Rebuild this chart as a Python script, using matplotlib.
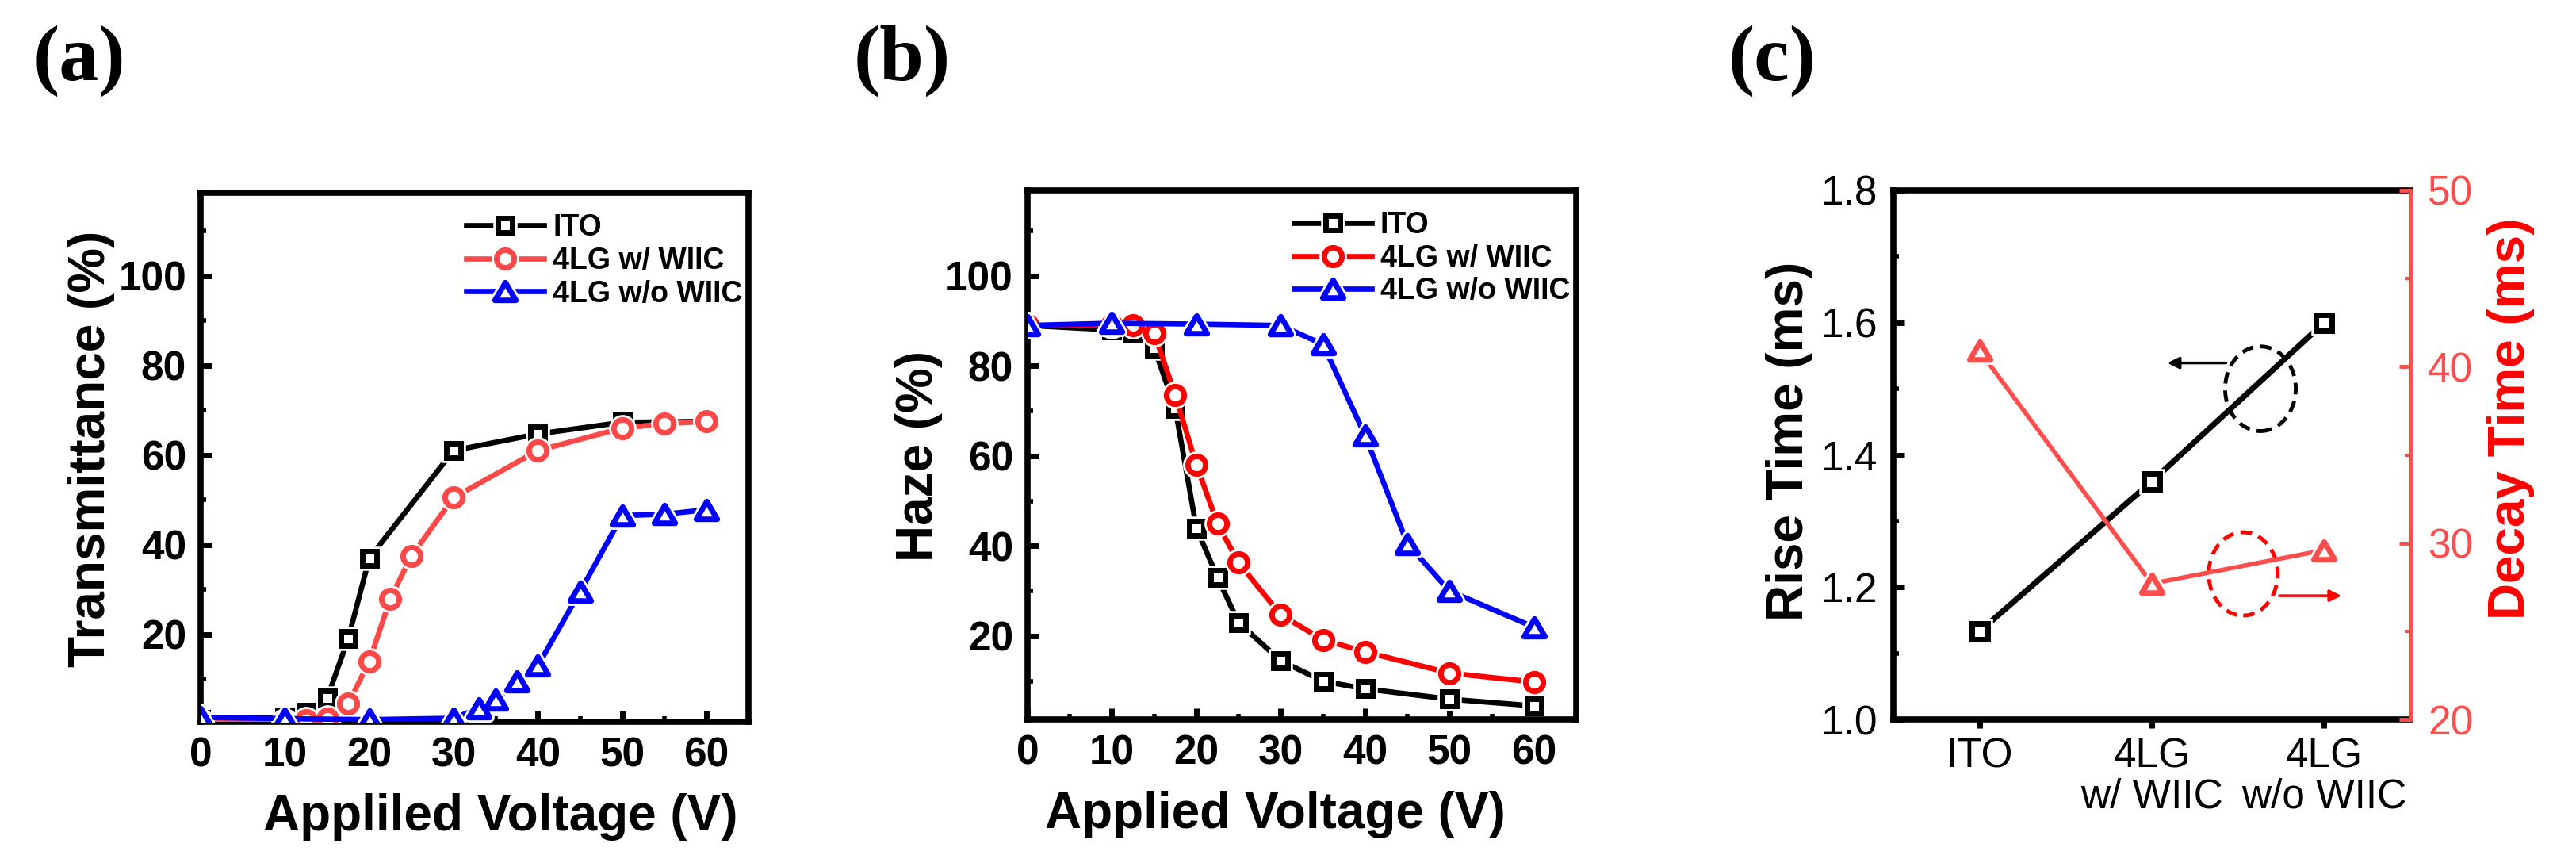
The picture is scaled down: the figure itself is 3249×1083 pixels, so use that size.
import matplotlib

matplotlib.use("Agg")
import matplotlib.pyplot as plt
from matplotlib.legend_handler import HandlerTuple
from matplotlib.markers import MarkerStyle
from matplotlib.patches import Ellipse
from matplotlib.path import Path
from matplotlib.ticker import MultipleLocator

# ---- data ----
# (a) transmittance vs applied voltage
volt_ito_a = [0, 10, 12.5, 15, 17.5, 20, 30, 40, 50, 60]
trans_ito = [1.0, 1.6, 2.6, 5.8, 19.0, 37.0, 61.0, 64.7, 67.3, 67.5]
volt_wiic_a = [0, 10, 12.5, 15, 17.5, 20, 22.5, 25, 30, 40, 50, 55, 60]
trans_wiic = [0.5, 0.5, 0.8, 1.2, 4.5, 14.0, 28.0, 37.5, 50.5, 61.0, 66.0, 67.0, 67.5]
volt_nowiic_a = [0, 10, 20, 30, 33, 35, 37.5, 40, 45, 50, 55, 60]
trans_nowiic = [1.5, 1.2, 1.0, 1.3, 3.5, 5.5, 9.5, 13.0, 29.5, 46.5, 46.8, 47.8]

# (b) haze vs applied voltage
volt_ito_b = [0, 10, 12.5, 15, 17.5, 20, 22.5, 25, 30, 35, 40, 50, 60]
haze_ito = [89.0, 88.0, 87.5, 84.0, 70.5, 44.0, 33.0, 23.0, 14.5, 10.0, 8.3, 6.0, 4.5]
volt_wiic_b = [0, 10, 12.5, 15, 17.5, 20, 22.5, 25, 30, 35, 40, 50, 60]
haze_wiic = [89.0, 89.0, 89.0, 87.3, 73.5, 58.0, 45.0, 36.3, 24.7, 19.2, 16.5, 11.8, 9.8]
volt_nowiic_b = [0, 10, 20, 30, 35, 40, 45, 50, 60]
haze_nowiic = [89.0, 89.5, 89.3, 89.0, 84.8, 64.5, 40.5, 30.0, 22.0]

# (c) response times
samples = ["ITO", "4LG\nw/ WIIC", "4LG\nw/o WIIC"]
rise_ms = [1.133, 1.36, 1.60]
decay_ms = [40.9, 27.7, 29.6]

legend_labels = ["ITO", "4LG w/ WIIC", "4LG w/o WIIC"]

SANS = "Liberation Sans"
SERIF = "Liberation Serif"
RED_A = "#ff4848"
RED_B = "#ff0000"
RED_C = "#ff4d4d"
BLUE = "#0000ff"
MEW = 5.0
LW = 4.8

# wide, squat open triangle like the Origin symbol
TRI = MarkerStyle(Path([(0, 0.85), (-1, -0.85), (1, -0.85), (0, 0.85)], closed=True),
                  joinstyle="miter")
SQR = MarkerStyle("s", joinstyle="miter")

plt.rcParams["font.family"] = SANS
plt.rcParams["font.weight"] = "bold"
plt.rcParams["axes.labelweight"] = "bold"
plt.rcParams["axes.linewidth"] = 5.5


def series(ax, x, y, color, marker, ms, lw, z):
    """Line + open symbol with a small white gap round each symbol."""
    line, = ax.plot(x, y, color=color, lw=lw, zorder=z)
    halo, = ax.plot(x, y, ls="none", marker=marker, ms=ms, mfc="white",
                    mec="white", mew=MEW + 4.0, zorder=z + 0.1)
    mk, = ax.plot(x, y, ls="none", marker=marker, ms=ms, mfc="white",
                  mec=color, mew=MEW, zorder=z + 0.2)
    return (line, halo, mk)


def style_voltage_axis(ax):
    ax.set_xlim(0, 65)
    ax.xaxis.set_major_locator(MultipleLocator(10))
    ax.xaxis.set_minor_locator(MultipleLocator(5))
    ax.yaxis.set_major_locator(MultipleLocator(20))
    ax.yaxis.set_minor_locator(MultipleLocator(10))
    ax.tick_params(which="major", direction="in", length=10, width=5,
                   pad=13, labelsize=37, top=False, right=False)
    ax.tick_params(which="minor", direction="in", length=5, width=4,
                   top=False, right=False)
    for t in ax.get_xticklabels() + ax.get_yticklabels():
        t.set_fontweight("bold")


def add_legend(ax, handles):
    ax.legend(handles, legend_labels, handler_map={tuple: HandlerTuple(ndivide=1, pad=0)},
              loc="upper right", bbox_to_anchor=(1.027, 1.0), frameon=False,
              handlelength=2.6, handletextpad=0.3, labelspacing=0.15,
              borderaxespad=0.45, borderpad=0.25,
              prop=dict(family=SANS, weight="bold", size=27))


fig = plt.figure(figsize=(32.49, 10.83), dpi=100)
ax_a = fig.add_axes([0.0779, 0.1597, 0.2127, 0.6159])
ax_b = fig.add_axes([0.3989, 0.1625, 0.2130, 0.6159])
ax_c = fig.add_axes([0.7350, 0.1625, 0.2007, 0.6159])

# ---- (a) ----
h1 = series(ax_a, volt_ito_a, trans_ito, "black", SQR, 13.5, LW, 2)
h2 = series(ax_a, volt_wiic_a, trans_wiic, RED_A, "o", 16, LW, 3)
h3 = series(ax_a, volt_nowiic_a, trans_nowiic, BLUE, TRI, 19, LW, 4)
style_voltage_axis(ax_a)
ax_a.set_ylim(0.5, 118.5)
ax_a.set_xlabel("Appliled Voltage (V)", fontsize=46, fontweight="bold")
ax_a.set_ylabel("Transmittance (%)", fontsize=46, fontweight="bold")
ax_a.xaxis.set_label_coords(0.547, -0.135)
ax_a.yaxis.set_label_coords(-0.156, 0.516)
add_legend(ax_a, [h1, h2, h3])

# ---- (b) ----
h1 = series(ax_b, volt_ito_b, haze_ito, "black", SQR, 13.5, LW, 2)
h2 = series(ax_b, volt_wiic_b, haze_wiic, RED_B, "o", 16, LW, 3)
h3 = series(ax_b, volt_nowiic_b, haze_nowiic, BLUE, TRI, 19, LW, 4)
style_voltage_axis(ax_b)
ax_b.set_ylim(1.5, 119)
ax_b.set_xlabel("Applied Voltage (V)", fontsize=46, fontweight="bold")
ax_b.set_ylabel("Haze (%)", fontsize=46, fontweight="bold")
ax_b.xaxis.set_label_coords(0.452, -0.135)
ax_b.yaxis.set_label_coords(-0.155, 0.498)
add_legend(ax_b, [h1, h2, h3])

# ---- (c) ----
pos = list(range(len(samples)))
series(ax_c, pos, rise_ms, "black", SQR, 14, 5.2, 2)
ax_c.set_xlim(-0.5, 2.5)
ax_c.set_ylim(1.0, 1.8)
ax_c.set_xticks(pos)
ax_c.set_xticklabels(samples, fontsize=37, fontweight="normal", linespacing=1.05)
ax_c.yaxis.set_major_locator(MultipleLocator(0.2))
ax_c.yaxis.set_minor_locator(MultipleLocator(0.1))
ax_c.tick_params(axis="y", which="major", direction="in", length=10, width=5,
                 pad=15, labelsize=37, right=False)
ax_c.tick_params(axis="y", which="minor", direction="in", length=5, width=4, right=False)
ax_c.tick_params(axis="x", which="major", direction="out", length=8, width=5,
                 pad=8, top=False)
ax_c.tick_params(axis="x", which="minor", bottom=False, top=False)
for t in ax_c.get_yticklabels():
    t.set_fontweight("normal")
ax_c.spines["right"].set_visible(False)
ax_c.set_ylabel("Rise Time (ms)", fontsize=46, fontweight="bold")
ax_c.yaxis.set_label_coords(-0.155, 0.525)

ax_d = ax_c.twinx()
series(ax_d, pos, decay_ms, RED_C, TRI, 19, 4.0, 2)
ax_d.set_ylim(20, 50)
ax_d.yaxis.set_major_locator(MultipleLocator(10))
ax_d.yaxis.set_minor_locator(MultipleLocator(5))
for side in ("left", "top", "bottom"):
    ax_d.spines[side].set_visible(False)
ax_d.spines["right"].set_color(RED_C)
ax_d.spines["right"].set_linewidth(3.5)
ax_d.tick_params(axis="y", which="major", direction="in", length=10, width=3.5,
                 pad=16, labelsize=37, colors=RED_C)
ax_d.tick_params(axis="y", which="minor", direction="in", length=5, width=3,
                 colors=RED_C)
for t in ax_d.get_yticklabels():
    t.set_fontweight("normal")
ax_d.set_ylabel("Decay Time (ms)", fontsize=46, fontweight="bold", color=RED_B)
ax_d.yaxis.set_label_coords(1.149, 0.568)

# dashed circles with arrows pointing to the matching axis
ax_c.add_patch(Ellipse((1.63, 1.50), 0.41, 0.128, fill=False, ec="black",
                       lw=3.5, ls=(0, (3, 1.8)), zorder=5))
ax_c.annotate("", xy=(1.09, 1.539), xytext=(1.43, 1.539),
              arrowprops=dict(arrowstyle="-|>", color="black", lw=2.5,
                              mutation_scale=22, shrinkA=0, shrinkB=0))
ax_c.add_patch(Ellipse((1.53, 1.22), 0.40, 0.126, fill=False, ec=RED_B,
                       lw=3.5, ls=(0, (3, 1.8)), zorder=5))
ax_c.annotate("", xy=(2.10, 1.187), xytext=(1.74, 1.187),
              arrowprops=dict(arrowstyle="-|>", color=RED_B, lw=2.5,
                              mutation_scale=22, shrinkA=0, shrinkB=0))

# panel letters
for x, s in [(0.0129, "(a)"), (0.3315, "(b)"), (0.671, "(c)")]:
    fig.text(x, 0.929, s, family=SERIF, weight="bold", fontsize=72,
             ha="left", va="center")

fig.savefig("out.png", dpi=100)
